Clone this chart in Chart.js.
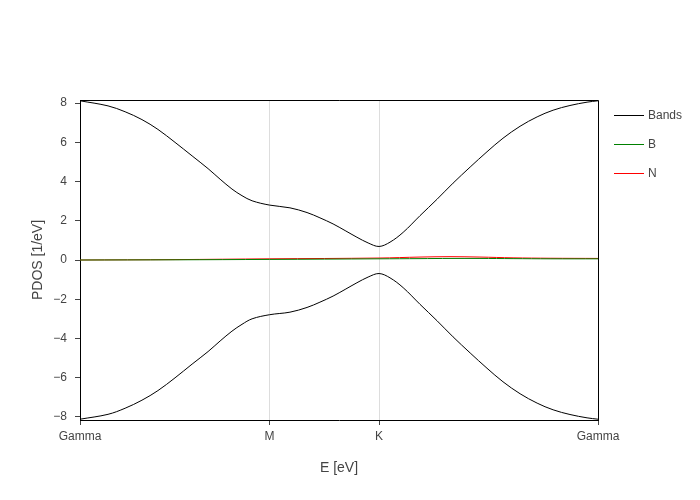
<!DOCTYPE html>
<html><head><meta charset="utf-8">
<script src="https://cdn.jsdelivr.net/npm/chart.js@4.4.1/dist/chart.umd.min.js"></script>
<style>html,body{margin:0;padding:0;background:#fff}#wrap{width:700px;height:500px;position:relative}</style>
</head><body><div id="wrap"><canvas id="c" width="700" height="500"></canvas></div>
<script>
// ---- data ----
const kTickPositions = [0, 0.866, 1.366, 2.366];
const kTickLabels = ['Gamma', 'M', 'K', 'Gamma'];
const yTickValues = [-8, -6, -4, -2, 0, 2, 4, 6, 8];
const seriesNames = ['Bands', 'B', 'N'];

const kBand = [0, 0.128, 0.206, 0.283, 0.356, 0.434, 0.512, 0.585, 0.640, 0.694, 0.740, 0.786, 0.866,
  0.959, 1.037, 1.096, 1.156, 1.211, 1.265, 1.316, 1.366,
  1.416, 1.476, 1.553, 1.631, 1.704, 1.782, 1.859, 1.932, 2.010, 2.088, 2.161, 2.238, 2.316, 2.366];
const upperBand = [8.12, 7.86, 7.56, 7.16, 6.66, 6.00, 5.31, 4.66, 4.12, 3.62, 3.28, 3.02, 2.80,
  2.66, 2.42, 2.15, 1.84, 1.50, 1.16, 0.87, 0.69,
  0.91, 1.41, 2.26, 3.10, 3.92, 4.74, 5.52, 6.21, 6.82, 7.30, 7.64, 7.88, 8.05, 8.12];
const lowerBand = [-8.12, -7.87, -7.56, -7.15, -6.66, -6.01, -5.31, -4.67, -4.13, -3.63, -3.28, -3.00, -2.79,
  -2.66, -2.42, -2.15, -1.84, -1.50, -1.16, -0.87, -0.69,
  -0.91, -1.41, -2.26, -3.10, -3.92, -4.74, -5.52, -6.21, -6.82, -7.30, -7.64, -7.88, -8.05, -8.12];

const kPdos = [0, 0.434, 0.866, 1.366, 1.553, 1.690, 1.827, 1.978, 2.147, 2.366];
const pdosB = [0.00, 0.01, 0.03, 0.06, 0.07, 0.08, 0.08, 0.07, 0.06, 0.06];
const pdosN = [0.00, 0.02, 0.06, 0.10, 0.15, 0.17, 0.15, 0.11, 0.09, 0.08];

const colors = {Bands: '#000000', B: '#008000', N: '#ff0000'};

function pts(xs, ys) { return xs.map((x, i) => ({x: x, y: ys[i]})); }

const FONT = '"Liberation Sans", Arial, sans-serif';
const TEXT = '#444';

const frame = {
  id: 'frame',
  afterDraw(chart) {
    const {ctx, chartArea: a} = chart;
    ctx.save();
    ctx.strokeStyle = '#000';
    ctx.lineWidth = 1;
    ctx.beginPath();
    ctx.moveTo(Math.round(a.left), Math.round(a.top) + 0.5);
    ctx.lineTo(Math.round(a.right) + 0.5, Math.round(a.top) + 0.5);
    ctx.lineTo(Math.round(a.right) + 0.5, Math.round(a.bottom));
    ctx.stroke();
    // legend
    ctx.font = '12px ' + FONT;
    ctx.textBaseline = 'middle';
    ctx.textAlign = 'left';
    seriesNames.forEach((name, i) => {
      const y = 115 + i * 29 + 0.5;
      ctx.strokeStyle = colors[name];
      ctx.lineWidth = 1;
      ctx.beginPath();
      ctx.moveTo(614, y);
      ctx.lineTo(644, y);
      ctx.stroke();
      ctx.fillStyle = TEXT;
      ctx.fillText(name, 648, y);
    });
    ctx.restore();
  }
};

const lineStyle = (color) => ({
  borderColor: color, backgroundColor: color, borderWidth: 1,
  pointRadius: 0, showLine: true, fill: false, tension: 0.35
});

new Chart(document.getElementById('c'), {
  type: 'scatter',
  data: {
    datasets: [
      Object.assign({label: 'Bands', data: pts(kBand, upperBand)}, lineStyle(colors.Bands)),
      Object.assign({label: 'Bands', data: pts(kBand, lowerBand)}, lineStyle(colors.Bands)),
      Object.assign({label: 'B', data: pts(kPdos, pdosB)}, lineStyle(colors.B)),
      Object.assign({label: 'N', data: pts(kPdos, pdosN)}, lineStyle(colors.N))
    ]
  },
  options: {
    responsive: false,
    animation: false,
    devicePixelRatio: 1,
    layout: {padding: {top: 100, right: 102, left: 0, bottom: 0}},
    plugins: {legend: {display: false}, tooltip: {enabled: false}},
    scales: {
      x: {
        type: 'linear', min: 0, max: 2.366,
        afterBuildTicks(s) { s.ticks = kTickPositions.map(v => ({value: v})); },
        afterFit(s) { s.height = 80; },
        ticks: {
          autoSkip: false, maxRotation: 0, padding: 4, color: TEXT,
          font: {family: FONT, size: 12},
          callback(v) { const i = kTickPositions.indexOf(v); return i >= 0 ? kTickLabels[i] : ''; }
        },
        grid: {color: '#dddddd', lineWidth: 1, tickLength: 5, tickColor: '#444', drawTicks: true},
        border: {color: '#000', width: 1},
        title: {display: true, text: 'E [eV]', color: TEXT, font: {family: FONT, size: 14}, padding: {top: 14, bottom: 23}}
      },
      y: {
        type: 'linear', min: -8.16, max: 8.16,
        afterBuildTicks(s) { s.ticks = yTickValues.map(v => ({value: v})); },
        afterFit(s) { s.width = 80; },
        ticks: {
          padding: 8, color: TEXT, font: {family: FONT, size: 12},
          callback(v) { return v < 0 ? '\u2212' + Math.abs(v) : String(v); }
        },
        grid: {drawOnChartArea: false, tickLength: 5, tickColor: '#444', drawTicks: true},
        border: {color: '#000', width: 1},
        title: {display: true, text: 'PDOS [1/eV]', color: TEXT, font: {family: FONT, size: 14}, padding: {top: 30, bottom: 0}}
      }
    }
  },
  plugins: [frame]
});
</script></body></html>
